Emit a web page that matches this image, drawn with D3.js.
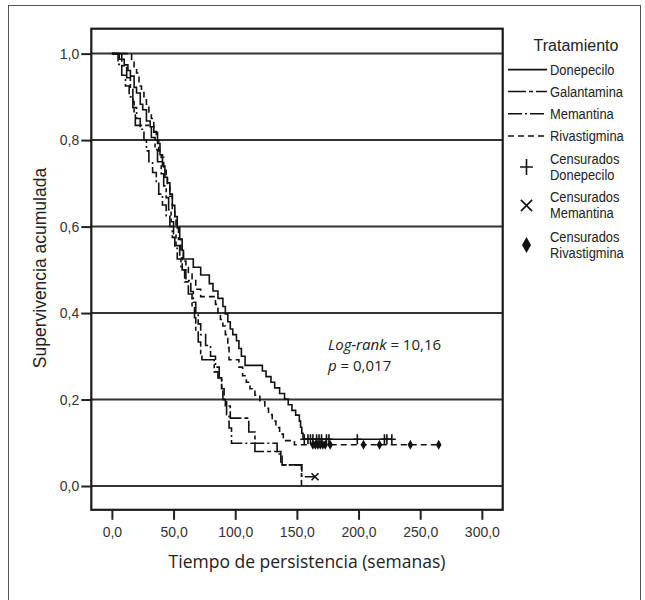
<!DOCTYPE html>
<html lang="es">
<head>
<meta charset="utf-8" />
<title>Supervivencia acumulada por tratamiento</title>
<script src="https://cdn.jsdelivr.net/npm/d3@7"></script>
<style>
  body { margin: 0; background: #fff; }
  .tick text { fill: #333; }
</style>
</head>
<body>
<script>
// treatments, in legend order
var treatments = ["Donepecilo", "Galantamina", "Memantina", "Rivastigmina"];

// event times (weeks) and survival right after each event
var donTimes = [6, 10, 13, 15, 18, 20, 23, 25, 28, 31, 34, 37, 39, 41, 43, 45, 47, 49, 51, 53,
  55, 57, 58, 66, 72, 79, 82, 86, 90, 92, 94, 96, 98, 101, 103, 105, 108, 122, 125, 129,
  132, 136, 140, 143, 146, 149, 152, 153, 154, 155];
var donSurv = [0.987, 0.974, 0.961, 0.948, 0.922, 0.909, 0.883, 0.870, 0.844, 0.831, 0.818, 0.792, 0.766, 0.740, 0.714, 0.701, 0.675, 0.649, 0.623, 0.597,
  0.571, 0.545, 0.525, 0.506, 0.488, 0.468, 0.451, 0.434, 0.415, 0.398, 0.380, 0.363, 0.350, 0.336, 0.318, 0.300, 0.279, 0.266, 0.253, 0.240,
  0.227, 0.214, 0.201, 0.188, 0.175, 0.164, 0.150, 0.136, 0.122, 0.108];
var donCensored = [156, 159, 161, 163, 166, 168, 170, 174, 176, 199, 221, 223, 227];

var galTimes = [8, 12, 15, 17, 18, 19, 32, 35, 37, 40, 42, 44, 46, 48, 50, 52, 55, 57, 59, 62,
  65, 67, 68, 70, 72, 73, 83, 86, 89, 90, 92, 96, 111, 116, 137, 153.7];
var galSurv = [0.972, 0.944, 0.917, 0.889, 0.861, 0.834, 0.806, 0.778, 0.750, 0.722, 0.694, 0.667, 0.639, 0.611, 0.583, 0.556, 0.528, 0.500, 0.472, 0.444,
  0.417, 0.389, 0.361, 0.333, 0.306, 0.292, 0.264, 0.250, 0.222, 0.200, 0.185, 0.157, 0.125, 0.080, 0.049, 0];
var galCensored = [];

var memTimes = [5, 8, 11, 14, 17, 20, 23, 26, 28, 30, 33, 36, 38, 41, 44, 47, 49, 51, 53, 56,
  60, 64, 66, 68, 70, 72, 76, 80, 84, 87, 89, 91, 93, 95, 97, 134, 138, 154];
var memSurv = [0.975, 0.950, 0.925, 0.900, 0.875, 0.850, 0.825, 0.800, 0.775, 0.750, 0.725, 0.700, 0.675, 0.650, 0.625, 0.600, 0.575, 0.550, 0.525, 0.500,
  0.475, 0.450, 0.425, 0.400, 0.375, 0.350, 0.325, 0.300, 0.275, 0.250, 0.225, 0.200, 0.165, 0.134, 0.099, 0.074, 0.049, 0.0215];
var memCensored = [164.7];

var rivTimes = [16, 18, 20, 22, 24, 26, 28, 30, 32, 34, 36, 38, 40, 42, 44, 45, 47, 49, 51, 52,
  54, 56, 58, 60, 62, 65, 68, 72, 84, 86, 88, 90, 92, 94, 95, 103, 106, 109, 112, 116,
  120, 124, 127, 130, 133, 136, 139, 148];
var rivSurv = [0.985, 0.970, 0.955, 0.925, 0.910, 0.895, 0.880, 0.865, 0.850, 0.820, 0.800, 0.775, 0.760, 0.730, 0.715, 0.700, 0.670, 0.640, 0.615, 0.600,
  0.570, 0.540, 0.520, 0.505, 0.490, 0.475, 0.455, 0.438, 0.420, 0.400, 0.385, 0.370, 0.350, 0.320, 0.292, 0.275, 0.255, 0.240, 0.225, 0.210,
  0.195, 0.180, 0.165, 0.150, 0.135, 0.120, 0.105, 0.0955];
var rivCensored = [163, 165, 167, 169, 171, 173, 177, 204, 217, 242, 265];

var xTicks = [0, 50, 100, 150, 200, 250, 300];
var yTicks = [0, 0.2, 0.4, 0.6, 0.8, 1.0];

var w = 645;
var h = 600;
var plot = { left: 91.3, right: 502.7, top: 28.7, bottom: 509.8 };

var series = [
  { name: treatments[0], times: donTimes, surv: donSurv, cens: donCensored, dash: null, mark: "plus" },
  { name: treatments[1], times: galTimes, surv: galSurv, cens: galCensored, dash: "18,3,4,3", mark: null },
  { name: treatments[2], times: memTimes, surv: memSurv, cens: memCensored, dash: "14,3,2,3", mark: "cross" },
  { name: treatments[3], times: rivTimes, surv: rivSurv, cens: rivCensored, dash: "6,4", mark: "diamond" }
];

var xScale = d3.scaleLinear().domain([-16.7, 316.9]).range([plot.left, plot.right]);
var yScale = d3.scaleLinear().domain([-0.055, 1.0576]).range([plot.bottom, plot.top]);

function comma(d) {
  return d3.format(".1f")(d).replace(".", ",");
}

// survival value of a step curve at time t
function survAt(s, t) {
  var v = 1;
  for (var i = 0; i < s.times.length; i++) {
    if (s.times[i] <= t) v = s.surv[i];
  }
  return v;
}

function stepPoints(s) {
  var pts = [[0, 1]];
  s.times.forEach(function (t, i) {
    pts.push([t, s.surv[i]]);
  });
  var last = s.cens.length ? d3.max(s.cens) : 0;
  if (last > pts[pts.length - 1][0]) pts.push([last, s.surv[s.surv.length - 1]]);
  return pts;
}

var svg = d3.select("body").append("svg").attr("width", w).attr("height", h);

// outer frame of the figure
svg.append("rect")
  .attr("x", 8.5).attr("y", 5.5).attr("width", 632).attr("height", 610)
  .attr("fill", "none").attr("stroke", "#555").attr("stroke-width", 1);

// gridlines
svg.selectAll("line.grid")
  .data(yTicks)
  .enter()
  .append("line")
  .attr("class", "grid")
  .attr("x1", plot.left).attr("x2", plot.right)
  .attr("y1", function (d) { return yScale(d); })
  .attr("y2", function (d) { return yScale(d); })
  .attr("stroke", "#333").attr("stroke-width", 2);

// axes
var xAxis = svg.append("g")
  .attr("transform", "translate(0," + plot.bottom + ")")
  .call(d3.axisBottom(xScale).tickValues(xTicks).tickFormat(comma).tickSize(10).tickPadding(7));
var yAxis = svg.append("g")
  .attr("transform", "translate(" + plot.left + ",0)")
  .call(d3.axisLeft(yScale).tickValues(yTicks).tickFormat(comma).tickSize(10).tickPadding(2));

[xAxis, yAxis].forEach(function (a) {
  a.select(".domain").remove();
  a.selectAll(".tick line").attr("stroke", "#222").attr("stroke-width", 2);
  a.selectAll(".tick text")
    .attr("font-family", "'Liberation Sans', Arial, sans-serif")
    .attr("font-size", "14px");
});

// plot frame
svg.append("rect")
  .attr("x", plot.left).attr("y", plot.top)
  .attr("width", plot.right - plot.left).attr("height", plot.bottom - plot.top)
  .attr("fill", "none").attr("stroke", "#1a1a1a").attr("stroke-width", 2.2);

// curves
var line = d3.line()
  .x(function (d) { return xScale(d[0]); })
  .y(function (d) { return yScale(d[1]); })
  .curve(d3.curveStepAfter);

svg.selectAll("path.km")
  .data(series)
  .enter()
  .append("path")
  .attr("class", "km")
  .attr("d", function (d) { return line(stepPoints(d)); })
  .attr("fill", "none")
  .attr("stroke", "#111")
  .attr("stroke-width", 1.6)
  .attr("stroke-dasharray", function (d) { return d.dash; });

// censored marks
function drawMark(g, type, x, y, k) {
  if (type === "plus") {
    g.append("path")
      .attr("d", "M" + (x - 4 * k) + "," + y + "H" + (x + 4 * k) + "M" + x + "," + (y - 5 * k) + "V" + (y + 5 * k))
      .attr("stroke", "#111").attr("stroke-width", 1.6).attr("fill", "none");
  } else if (type === "cross") {
    g.append("path")
      .attr("d", "M" + (x - 3.5 * k) + "," + (y - 3.5 * k) + "L" + (x + 3.5 * k) + "," + (y + 3.5 * k) +
        "M" + (x - 3.5 * k) + "," + (y + 3.5 * k) + "L" + (x + 3.5 * k) + "," + (y - 3.5 * k))
      .attr("stroke", "#111").attr("stroke-width", 1.6).attr("fill", "none");
  } else if (type === "diamond") {
    g.append("path")
      .attr("d", "M" + x + "," + (y - 5 * k) + "L" + (x + 2.8 * k) + "," + y + "L" + x + "," + (y + 5 * k) + "L" + (x - 2.8 * k) + "," + y + "Z")
      .attr("fill", "#111");
  }
}

var marks = svg.append("g");
series.forEach(function (s) {
  s.cens.forEach(function (t) {
    drawMark(marks, s.mark, xScale(t), yScale(survAt(s, t)), 1);
  });
});

// axis titles
svg.append("text")
  .attr("x", 307).attr("y", 568)
  .attr("text-anchor", "middle")
  .attr("font-family", "'Open Sans', sans-serif")
  .attr("font-size", "17.5px")
  .attr("fill", "#222")
  .text("Tiempo de persistencia (semanas)");

svg.append("text")
  .attr("transform", "translate(46,268) rotate(-90)")
  .attr("text-anchor", "middle")
  .attr("font-family", "'Liberation Sans', Arial, sans-serif")
  .attr("font-size", "17.5px")
  .attr("fill", "#222")
  .text("Supervivencia acumulada");

// test annotation
var note = svg.append("g")
  .attr("font-family", "'Open Sans', sans-serif")
  .attr("font-size", "15px")
  .attr("fill", "#222");
var t1 = note.append("text").attr("x", 328).attr("y", 349.5);
t1.append("tspan").attr("font-style", "italic").text("Log-rank");
t1.append("tspan").text(" = 10,16");
var t2 = note.append("text").attr("x", 328).attr("y", 371);
t2.append("tspan").attr("font-style", "italic").text("p");
t2.append("tspan").text(" = 0,017");

// legend (narrow lettering, squeezed horizontally)
var legend = svg.append("g")
  .attr("font-family", "'Liberation Sans', Arial, sans-serif")
  .attr("fill", "#222");

legend.append("text")
  .attr("x", 576).attr("y", 51)
  .attr("text-anchor", "middle")
  .attr("font-size", "16px")
  .text("Tratamiento");

function legendText(str, y) {
  legend.append("text")
    .attr("transform", "translate(550," + y + ") scale(0.86,1)")
    .attr("font-size", "15px")
    .text(str);
}

var rowY = [69.6, 91.5, 113.7, 136];
series.forEach(function (s, i) {
  legend.append("line")
    .attr("x1", 508).attr("x2", 547)
    .attr("y1", rowY[i]).attr("y2", rowY[i])
    .attr("stroke", "#111").attr("stroke-width", 1.6)
    .attr("stroke-dasharray", s.dash);
  legendText(s.name, rowY[i] + 5);
});

var censRows = [
  { mark: "plus", y: 167, lines: ["Censurados", "Donepecilo"] },
  { mark: "cross", y: 205.5, lines: ["Censurados", "Memantina"] },
  { mark: "diamond", y: 245, lines: ["Censurados", "Rivastigmina"] }
];
censRows.forEach(function (r) {
  drawMark(legend, r.mark, 526.5, r.y, 1.6);
  r.lines.forEach(function (l, j) {
    legendText(l, r.y - 3.5 + j * 16.3);
  });
});
</script>
</body>
</html>
